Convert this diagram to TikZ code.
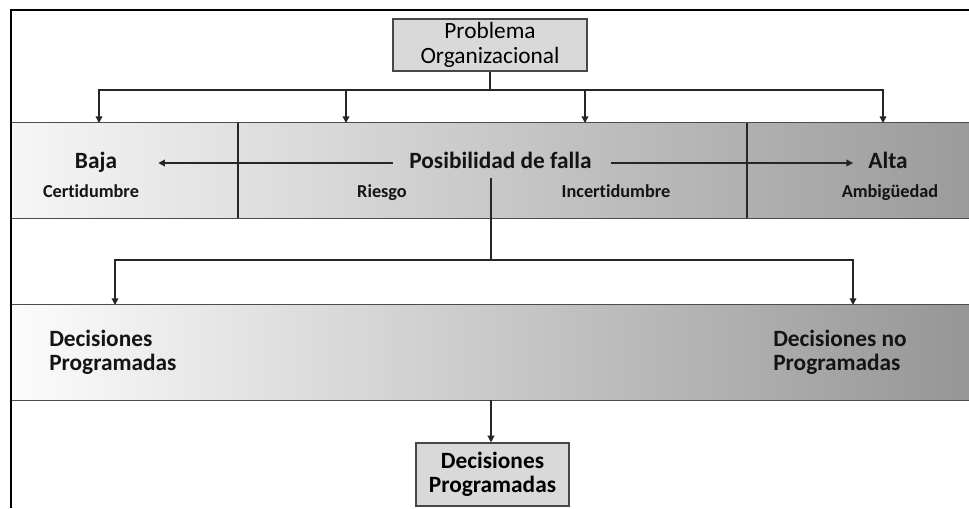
\documentclass[tikz,border=0pt]{standalone}
\usepackage{fontspec}
\setmainfont{Carlito}[Ligatures=NoCommon]
\usetikzlibrary{arrows.meta,calc}
\definecolor{boxgray}{HTML}{D9D9D9}
\definecolor{lineg}{HTML}{262626}
\begin{document}
\begin{tikzpicture}[x=0.75pt,y=-0.75pt,
  graybox/.style={draw=lineg!85, fill=boxgray, line width=0.9pt, inner sep=0pt, align=center, text=black},
  bandbox/.style={inner sep=0pt, minimum width=718.5pt, minimum height=71.25pt},
  bandline/.style={draw=black!70, line width=1pt},
  big/.style={font=\bfseries\fontsize{17.5}{18}\selectfont, inner sep=0pt, text=black!92},
  small/.style={font=\bfseries\fontsize{13.7}{16}\selectfont, inner sep=0pt, text=black!92},
  conn/.style={line width=1.1pt, draw=lineg},
  arr/.style={conn, -{Triangle[length=5pt,width=5pt]}}]
\useasboundingbox (0,0) rectangle (969,508);
\fill[white] (0,0) rectangle (969,508);

% top box
\node[graybox, minimum width=145.5pt, minimum height=39pt,
      font=\fontsize{17.5}{18.75}\selectfont] (prob) at (490,45) {Problema\\Organizacional};

% band 1
\node[bandbox, shading=axis, left color={rgb,255:red,246;green,246;blue,246}, right color={rgb,255:red,155;green,155;blue,155}] (band1) at (490,170.5) {};
\draw[bandline] (band1.north west) -- (band1.north east);
\draw[bandline] (band1.south west) -- (band1.south east);
\draw[conn] (238,123) -- (238,218);
\draw[conn] (747,123) -- (747,218);

\node[big, anchor=base] (baja) at (96,168) {Baja};
\node[small, anchor=base] (cert) at (91,197) {Certidumbre};
\node[big, anchor=base] (posib) at (500.5,168) {Posibilidad de falla};
\node[small, anchor=base] (ries) at (382,197) {Riesgo};
\node[small, anchor=base] (incer) at (616,197) {Incertidumbre};
\node[big, anchor=base] (alta) at (888,168) {Alta};
\node[small, anchor=base] (ambi) at (890,197) {Ambigüedad};

% band 2
\node[bandbox, shading=axis, left color={rgb,255:red,252;green,252;blue,252}, right color={rgb,255:red,150;green,150;blue,150}] (band2) at (490,352.5) {};
\draw[bandline] (band2.north west) -- (band2.north east);
\draw[bandline] (band2.south west) -- (band2.south east);
\node[big, anchor=west, align=left] (dp) at (49,352) {Decisiones\\Programadas};
\node[big, anchor=west, align=left] (dnp) at (773,352) {Decisiones no\\Programadas};

% bottom box
\node[graybox, minimum width=114.75pt, minimum height=47.25pt,
      font=\bfseries\fontsize{17.5}{18}\selectfont] (dpb) at (492.5,474.5) {Decisiones\\Programadas};

% connectors from top box
\coordinate (hub1) at (490,90);
\coordinate (t1) at (99,123);
\coordinate (t2) at (346,123);
\coordinate (t3) at (585,123);
\coordinate (t4) at (883,123);
\draw[conn] (prob.south) -- (hub1);
\draw[arr] (hub1) -| (t1);
\draw[arr] (hub1) -| (t2);
\draw[arr] (hub1) -| (t3);
\draw[arr] (hub1) -| (t4);

% horizontal arrows in band 1
\draw[arr] ($(posib.base west)+(-16,-5)$) -- ($(baja.base east)+(41,-5)$);
\draw[arr] ($(posib.base east)+(19,-5)$) -- ($(alta.base west)+(-15,-5)$);

% from posibilidad down
\coordinate (d0) at (491,178);
\coordinate (hub2) at (491,260);
\coordinate (u1) at (115,305);
\coordinate (u2) at (853,305);
\draw[conn] (d0) -- (hub2);
\draw[arr] (hub2) -| (u1);
\draw[arr] (hub2) -| (u2);

% band 2 to bottom box
\coordinate (b2out) at (491,400);
\draw[arr] (b2out) -- (b2out |- dpb.north);

% frame
\draw[line width=2.2pt, black] (11,508) -- (11,10) -- (969,10);
\end{tikzpicture}
\end{document}
